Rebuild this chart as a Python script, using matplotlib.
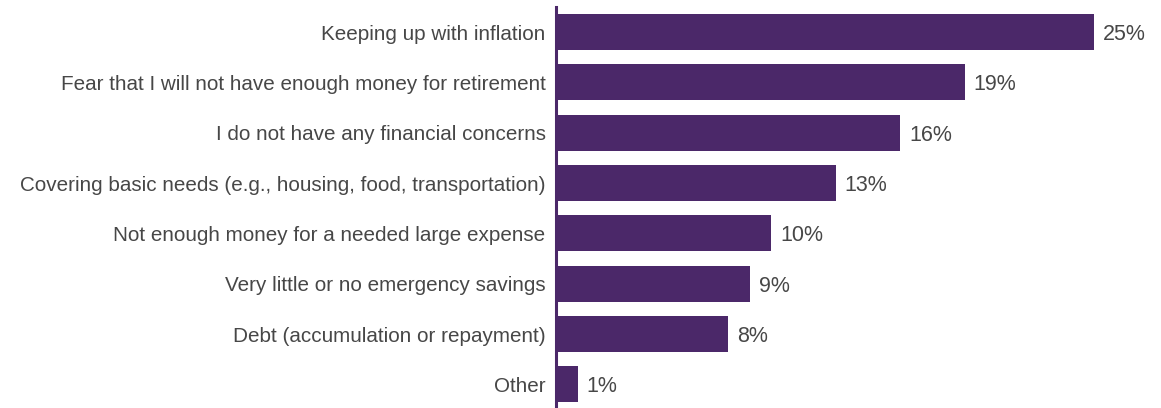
import matplotlib.pyplot as plt

concerns = [
    "Keeping up with inflation",
    "Fear that I will not have enough money for retirement",
    "I do not have any financial concerns",
    "Covering basic needs (e.g., housing, food, transportation)",
    "Not enough money for a needed large expense",
    "Very little or no emergency savings",
    "Debt (accumulation or repayment)",
    "Other",
]
shares = [25, 19, 16, 13, 10, 9, 8, 1]

bar_color = "#4B2869"
text_color = "#474747"

plt.rcParams["font.family"] = ["Liberation Sans", "DejaVu Sans"]

fig = plt.figure(figsize=(11.61, 4.08), dpi=100)
ax = fig.add_axes([556 / 1161, 0, 1 - 556 / 1161, 401 / 408])

ypos = list(range(len(concerns)))
ax.barh(ypos, shares, height=0.715, color=bar_color)

for y, v in zip(ypos, shares):
    ax.text(v + 0.42, y, f"{v}%", va="center_baseline", ha="left",
            fontsize=15.5, color=text_color)

ax.set_xlim(0, 605 / 21.5)
ax.set_ylim(7.47, -0.5)
ax.set_yticks(ypos)
ax.set_yticklabels(concerns, fontsize=14.85, color=text_color, va="center_baseline")
ax.tick_params(axis="y", length=0, pad=7.5)
ax.set_xticks([])

for side in ["top", "right", "bottom"]:
    ax.spines[side].set_visible(False)
ax.spines["left"].set_color(bar_color)
ax.spines["left"].set_linewidth(2.2)

fig.savefig("out.png", dpi=100)
plt.close(fig)
